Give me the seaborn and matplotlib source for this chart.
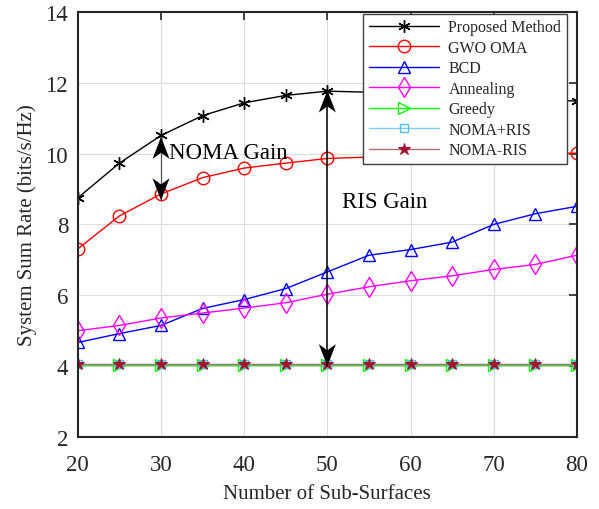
import matplotlib
matplotlib.use("Agg")
import matplotlib.pyplot as plt
import seaborn as sns
import numpy as np
import pandas as pd

# ---- data ----
sub_surfaces = [20, 25, 30, 35, 40, 45, 50, 55, 60, 65, 70, 75, 80]
proposed = [8.75, 9.73, 10.51, 11.07, 11.43, 11.64, 11.76, 11.73, 11.68, 11.62, 11.57, 11.52, 11.48]
gwo_oma = [7.31, 8.24, 8.86, 9.32, 9.59, 9.73, 9.86, 9.90, 9.93, 9.96, 9.98, 10.00, 10.01]
bcd = [4.67, 4.92, 5.15, 5.63, 5.88, 6.19, 6.66, 7.13, 7.29, 7.50, 8.00, 8.30, 8.51]
annealing = [5.00, 5.15, 5.36, 5.50, 5.64, 5.79, 6.03, 6.24, 6.41, 6.55, 6.73, 6.87, 7.13]
greedy = [4.04] * 13
noma_plus_ris = [4.05] * 13
noma_minus_ris = [4.06] * 13
labels = ["Proposed Method", "GWO OMA", "BCD", "Annealing", "Greedy", "NOMA+RIS", "NOMA-RIS"]
x_ticks = [20, 30, 40, 50, 60, 70, 80]
y_ticks = [2, 4, 6, 8, 10, 12, 14]

series = [proposed, gwo_oma, bcd, annealing, greedy, noma_plus_ris, noma_minus_ris]
styles = [
    dict(color="black", marker=(6, 2, 0), ms=9, mfc="black", mec="black", mew=1.0),
    dict(color="#FF0000", marker="o", ms=9, mfc="none", mec="#FF0000", mew=1.0),
    dict(color="#0000FF", marker="^", ms=9, mfc="none", mec="#0000FF", mew=1.0),
    dict(color="#FF00FF", marker="d", ms=10, mfc="none", mec="#FF00FF", mew=1.0),
    dict(color="#00FF00", marker=">", ms=8, mfc="none", mec="#00FF00", mew=1.0),
    dict(color="#7FCDEE", marker="s", ms=6, mfc="none", mec="#4DBEEE", mew=1.0),
    dict(color="#B86B77", marker="*", ms=9, mfc="#A2142F", mec="#A2142F", mew=0.8),
]

sns.set_theme(style="white")
plt.rcParams["font.family"] = ["Liberation Serif", "DejaVu Serif"]

fig = plt.figure(figsize=(5.99, 5.10), dpi=100)
ax = fig.add_axes([0.130, 0.141, 0.833, 0.834])

for vals, lab, st in zip(series, labels, styles):
    df = pd.DataFrame({"x": sub_surfaces, "y": vals})
    sns.lineplot(data=df, x="x", y="y", ax=ax, label=lab, lw=1.0,
                 color=st["color"], marker=st["marker"], markersize=st["ms"],
                 markerfacecolor=st["mfc"], markeredgecolor=st["mec"],
                 markeredgewidth=st["mew"])

ax.set_xlim(20, 80)
ax.set_ylim(2, 14)
ax.set_xticks(x_ticks)
ax.set_yticks(y_ticks)
ax.grid(True, color="#DCDCDC", lw=0.8)
ax.set_axisbelow(True)
ax.tick_params(direction="in", length=6, width=1.2, top=True, right=True,
               labelsize=16.5, colors="#262626")
ax.tick_params(axis="y", pad=7)
ax.tick_params(axis="x", pad=12.5)
for s in ax.spines.values():
    s.set_color("#262626")
    s.set_linewidth(1.5)
ax.set_xlabel("Number of Sub-Surfaces", fontsize=15, color="#262626", labelpad=6.5)
ax.set_ylabel("System Sum Rate (bits/s/Hz)", fontsize=15, color="#262626", labelpad=6)


def vback_arrow(x, y0, y1, color_line, lw):
    """Double-headed vertical arrow with concave (MATLAB vback2) heads."""
    ax.plot([x, x], [y0, y1], color=color_line, lw=lw, zorder=5)
    L = 22 / 35.42   # head length (data units)
    hw = 8.5 / 8.317  # half width (data units)
    for tip, sgn in ((y1, 1), (y0, -1)):
        xs = [x, x - hw, x, x + hw]
        ys = [tip, tip - sgn * L, tip - sgn * 0.72 * L, tip - sgn * L]
        ax.fill(xs, ys, color="black", lw=0, zorder=6)


vback_arrow(30, 8.68, 10.47, "#505050", 0.9)
ax.text(30.95, 10.04, "NOMA Gain", fontsize=16.5, va="center", ha="left", color="black")
vback_arrow(50, 4.0, 11.78, "black", 1.1)
ax.text(51.8, 8.65, "RIS Gain", fontsize=16.5, va="center", ha="left", color="black")

leg = ax.legend(loc="upper right", bbox_to_anchor=(0.98, 0.995), borderaxespad=0,
                fontsize=11.5, handlelength=4.4, labelspacing=0.28, frameon=True,
                fancybox=False, edgecolor="#404040", framealpha=1, borderpad=0.35,
                handletextpad=0.6)
leg.get_frame().set_linewidth(1.0)
leg.set_zorder(10)

fig.savefig("out.png", dpi=100)
